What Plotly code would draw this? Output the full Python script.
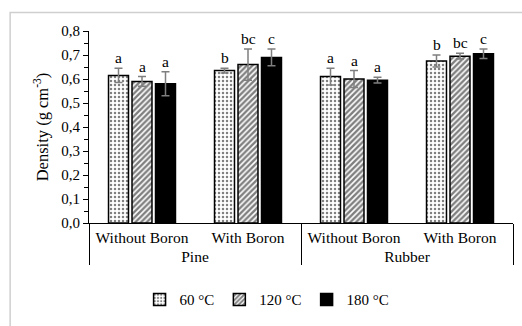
import plotly.graph_objects as go

# Density of heat-treated wood by species, boron treatment and temperature
species = ["Pine", "Pine", "Rubber", "Rubber"]
treatment = ["Without Boron", "With Boron", "Without Boron", "With Boron"]
temperatures = ["60 °C", "120 °C", "180 °C"]

density_60 = [0.615, 0.635, 0.610, 0.675]
density_120 = [0.590, 0.660, 0.600, 0.695]
density_180 = [0.580, 0.690, 0.595, 0.705]

sd_60 = [0.030, 0.010, 0.035, 0.025]
sd_120 = [0.020, 0.065, 0.035, 0.012]
sd_180 = [0.050, 0.035, 0.012, 0.020]

letters_60 = ["a", "b", "a", "b"]
letters_120 = ["a", "bc", "a", "bc"]
letters_180 = ["a", "c", "a", "c"]

FONT = "Liberation Serif, Times New Roman, serif"
BARGAP = 0.335
BARGROUPGAP = 0.15

series = [
    (temperatures[0], density_60, sd_60, letters_60,
     dict(color="white", line=dict(color="black", width=1.5),
          pattern=dict(shape=".", fgcolor="black", bgcolor="white", size=4, solidity=0.3))),
    (temperatures[1], density_120, sd_120, letters_120,
     dict(color="white", line=dict(color="black", width=1.5),
          pattern=dict(shape="/", fgcolor="black", bgcolor="white", size=4, solidity=0.6))),
    (temperatures[2], density_180, sd_180, letters_180,
     dict(color="black", line=dict(color="black", width=1.5))),
]

fig = go.Figure()
annotations = []
slot = (1 - BARGAP) / len(series)
for i, (name, vals, errs, lets, marker) in enumerate(series):
    fig.add_trace(go.Bar(
        name=name,
        x=[species, treatment],
        y=vals,
        marker=marker,
        error_y=dict(type="data", array=errs, visible=True,
                     color="#7f7f7f", thickness=1.5, width=4),
    ))
    for g, (v, e, t) in enumerate(zip(vals, errs, lets)):
        annotations.append(dict(
            x=g + (i - 1) * slot, y=v + e, xref="x", yref="y",
            text=t, showarrow=False, yanchor="bottom", yshift=0,
            font=dict(family=FONT, size=15.5, color="black"),
        ))

# light frame around the chart area
frame = dict(type="rect", xref="paper", yref="paper",
             x0=-0.186, x1=1.05, y0=-1.5, y1=1.096,
             line=dict(color="#cfcfcf", width=1.5), fillcolor="rgba(0,0,0,0)", layer="above")

fig.update_layout(
    width=522, height=326,
    margin=dict(l=89, r=9, t=31, b=97),
    paper_bgcolor="white", plot_bgcolor="white",
    barmode="group", bargap=BARGAP, bargroupgap=BARGROUPGAP,
    separators=",.",
    font=dict(family=FONT, size=15.5, color="black"),
    showlegend=True,
    legend=dict(orientation="h", x=0.42, xanchor="center", y=-0.40, yanchor="middle",
                font=dict(family=FONT, size=15), itemwidth=30, tracegroupgap=0),
    annotations=annotations,
    shapes=[frame],
)
fig.update_yaxes(
    range=[0, 0.8], dtick=0.1, tickformat=".1f",
    showline=True, linecolor="black", linewidth=1,
    ticks="outside", ticklen=5, tickcolor="black",
    minor=dict(dtick=0.05, ticks="outside", ticklen=4, tickcolor="black"),
    showgrid=False, zeroline=False, automargin=False,
    tickfont=dict(family=FONT, size=15),
    title=dict(text="Density (g cm<sup>-3</sup>)", font=dict(family=FONT, size=16.5), standoff=8),
)
fig.update_xaxes(
    type="multicategory", tickangle=0, automargin=False,
    showline=True, linecolor="black", linewidth=1,
    showdividers=True, dividercolor="black", dividerwidth=1,
    ticks="outside", ticklen=6, tickcolor="rgba(0,0,0,0)",
    tickfont=dict(family=FONT, size=15.5),
    showgrid=False,
)

fig.write_html("out.html")
